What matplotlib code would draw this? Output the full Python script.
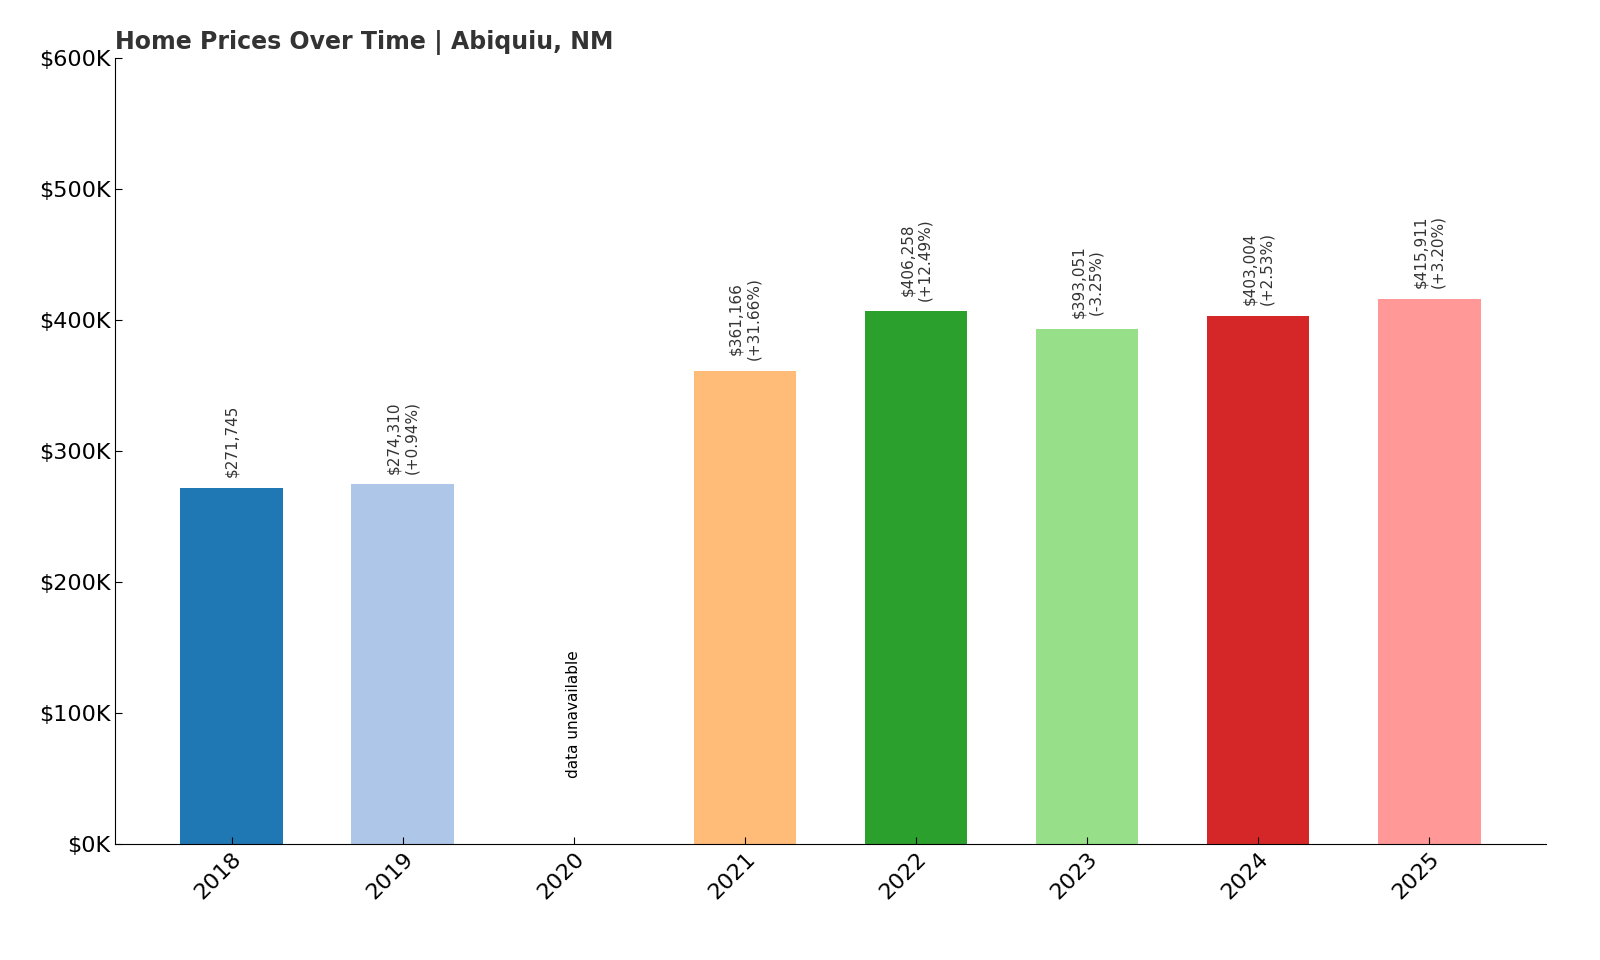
import numpy as np
import matplotlib.pyplot as plt

years = ['2018', '2019', '2020', '2021', '2022', '2023', '2024', '2025']
prices = [271745, 274310, None, 361166, 406258, 393051, 403004, 415911]
changes = [None, '+0.94%', None, '+31.66%', '+12.49%', '-3.25%', '+2.53%', '+3.20%']
colors = ['#1f77b4', '#aec7e8', '#ff7f0e', '#ffbb78', '#2ca02c', '#98df8a', '#d62728', '#ff9896']

fig = plt.figure(figsize=(16, 9.6), dpi=100)
ax = fig.add_axes([0.072, 0.121, 0.894, 0.819])

x = np.arange(len(years))
for i, p in enumerate(prices):
    if p is None:
        ax.text(x[i], 50000, 'data unavailable', rotation=90, ha='center', va='bottom', fontsize=11)
        continue
    ax.bar(x[i], p, width=0.6, color=colors[i])
    label = f'${p:,}' if changes[i] is None else f'${p:,}\n({changes[i]})'
    ax.text(x[i], p + 8000, label, rotation=90, ha='center', va='bottom', fontsize=11, color='#333333')

ax.set_ylim(0, 600000)
ax.set_xlim(-0.68, 7.68)
ax.set_yticks(np.arange(0, 600001, 100000))
ax.set_yticklabels([f'${v // 1000}K' for v in range(0, 600001, 100000)], fontsize=16)
ax.set_xticks(x)
ax.set_xticklabels(years, rotation=45, ha='right', rotation_mode='anchor', fontsize=16)
ax.tick_params(direction='in', length=5)
for s in ['top', 'right']:
    ax.spines[s].set_visible(False)
ax.set_title('Home Prices Over Time | Abiquiu, NM', loc='left', fontsize=17,
             fontweight='bold', color='#333333')

fig.savefig('out.png', dpi=100)
